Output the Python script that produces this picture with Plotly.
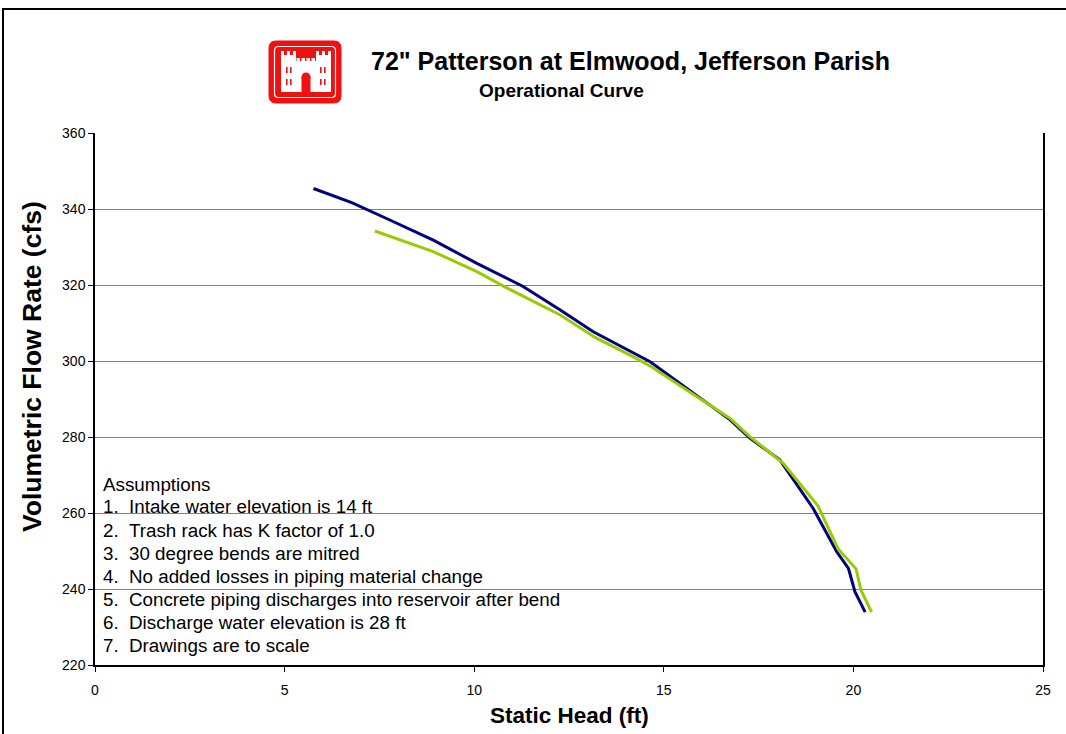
import plotly.graph_objects as go

# ---- data ----
blue_head = [5.76, 6.77, 7.69, 8.92, 10.07, 10.77, 11.29, 12.27, 13.14, 14.64,
             15.78, 16.75, 17.27, 18.06, 18.94, 19.56, 19.87, 20.04, 20.31]
blue_flow = [345.4, 341.7, 337.5, 331.8, 325.7, 322.2, 319.6, 313.4, 307.7, 299.8,
             291.5, 284.5, 279.7, 274.0, 261.2, 249.8, 245.4, 239.3, 233.9]

green_head = [7.38, 8.92, 10.07, 10.77, 12.27, 13.19, 14.20, 14.64, 16.75, 17.27,
              18.15, 19.07, 19.60, 20.07, 20.20, 20.48]
green_flow = [334.2, 328.8, 323.5, 319.7, 312.1, 306.2, 301.1, 298.7, 284.9, 280.1,
              273.1, 261.8, 250.5, 245.3, 239.7, 233.9]

x_ticks = [0, 5, 10, 15, 20, 25]
y_ticks = [220, 240, 260, 280, 300, 320, 340, 360]

title_text = '72" Patterson at Elmwood, Jefferson Parish'
subtitle_text = "Operational Curve"
x_title = "Static Head (ft)"
y_title = "Volumetric Flow Rate (cfs)"
notes_header = "Assumptions"
note_numbers = ["1.", "2.", "3.", "4.", "5.", "6.", "7."]
note_texts = [
    "Intake water elevation is 14 ft",
    "Trash rack has K factor of 1.0",
    "30 degree bends are mitred",
    "No added losses in piping material change",
    "Concrete piping discharges into reservoir after bend",
    "Discharge water elevation is 28 ft",
    "Drawings are to scale",
]

# ---- layout geometry (pixels) ----
W, H = 1066, 734
PL, PR, PT, PB = 95, 1043, 133, 665
FONT = "Arial, Liberation Sans, sans-serif"


def px(x):
    return (x - PL) / (PR - PL)


def py(y):
    return (PB - y) / (PB - PT)


fig = go.Figure()
fig.add_trace(go.Scatter(x=blue_head, y=blue_flow, mode="lines",
                         line=dict(color="#000080", width=3), showlegend=False))
fig.add_trace(go.Scatter(x=green_head, y=green_flow, mode="lines",
                         line=dict(color="#99CC00", width=3), showlegend=False))

annotations = []
annotations.append(dict(text="<b>" + title_text + "</b>", x=px(630), y=py(61),
                        xref="paper", yref="paper", showarrow=False,
                        xanchor="center", yanchor="middle",
                        font=dict(family=FONT, size=25, color="black")))
annotations.append(dict(text="<b>" + subtitle_text + "</b>", x=px(561), y=py(90),
                        xref="paper", yref="paper", showarrow=False,
                        xanchor="center", yanchor="middle",
                        font=dict(family=FONT, size=19, color="black")))
annotations.append(dict(text="<b>" + x_title + "</b>", x=px(569), y=py(715),
                        xref="paper", yref="paper", showarrow=False,
                        xanchor="center", yanchor="middle",
                        font=dict(family=FONT, size=22.5, color="black")))
annotations.append(dict(text="<b>" + y_title + "</b>", x=px(32), y=py(367),
                        xref="paper", yref="paper", showarrow=False, textangle=-90,
                        xanchor="center", yanchor="middle",
                        font=dict(family=FONT, size=26.5, color="black")))

NOTE_FONT = dict(family=FONT, size=18.8, color="black")
annotations.append(dict(text=notes_header, x=px(101), y=py(484),
                        xref="paper", yref="paper", showarrow=False,
                        xanchor="left", yanchor="middle", font=NOTE_FONT))
for i, (n, t) in enumerate(zip(note_numbers, note_texts)):
    yy = 484 + 23 * (i + 1)
    annotations.append(dict(text=n, x=px(101), y=py(yy), xref="paper", yref="paper",
                            showarrow=False, xanchor="left", yanchor="middle",
                            font=NOTE_FONT))
    annotations.append(dict(text=t, x=px(127), y=py(yy), xref="paper", yref="paper",
                            showarrow=False, xanchor="left", yanchor="middle",
                            font=NOTE_FONT))

shapes = []
# outer chart border
shapes.append(dict(type="rect", xref="paper", yref="paper",
                   x0=px(3), x1=px(1075), y0=py(745), y1=py(9),
                   line=dict(color="black", width=2), fillcolor="rgba(0,0,0,0)",
                   layer="above"))


def rounded_rect(x0, y0, x1, y1, r):
    return (f"M {px(x0 + r)},{py(y0)} L {px(x1 - r)},{py(y0)} "
            f"Q {px(x1)},{py(y0)} {px(x1)},{py(y0 + r)} "
            f"L {px(x1)},{py(y1 - r)} Q {px(x1)},{py(y1)} {px(x1 - r)},{py(y1)} "
            f"L {px(x0 + r)},{py(y1)} Q {px(x0)},{py(y1)} {px(x0)},{py(y1 - r)} "
            f"L {px(x0)},{py(y0 + r)} Q {px(x0)},{py(y0)} {px(x0 + r)},{py(y0)} Z")


RED = "#EE1111"
# logo: red rounded square
shapes.append(dict(type="path", xref="paper", yref="paper",
                   path=rounded_rect(269, 41, 341, 103, 7),
                   fillcolor=RED, line=dict(color=RED, width=1), layer="above"))
shapes.append(dict(type="path", xref="paper", yref="paper",
                   path=rounded_rect(274.5, 46.5, 335.5, 97.5, 4),
                   fillcolor="rgba(0,0,0,0)", line=dict(color="white", width=1.2),
                   layer="above"))


def wrect(x0, y0, x1, y1, color="white"):
    shapes.append(dict(type="rect", xref="paper", yref="paper",
                       x0=px(x0), x1=px(x1), y0=py(y1), y1=py(y0),
                       fillcolor=color, line=dict(width=0), layer="above"))


# castle body and towers
wrect(281, 64, 331, 92)
wrect(281, 55, 296, 64)
wrect(316, 55, 331, 64)
wrect(296, 61, 316, 64)
# crenellations
for cx in (281, 287, 293):
    wrect(cx, 51, cx + 3, 55)
for cx in (316, 322, 328):
    wrect(cx, 51, cx + 3, 55)
for cx in (296.5, 301.5, 306.5, 311.5):
    wrect(cx, 58, cx + 3.5, 61)
# windows and door
for wx in (286, 290, 320, 324):
    wrect(wx, 67, wx + 1.6, 73, RED)
    wrect(wx, 79, wx + 1.6, 85, RED)
wrect(301.5, 77, 310.5, 92, RED)
shapes.append(dict(type="circle", xref="paper", yref="paper",
                   x0=px(301.5), x1=px(310.5), y0=py(81.5), y1=py(72.5),
                   fillcolor=RED, line=dict(width=0), layer="above"))

fig.update_layout(
    width=W, height=H,
    margin=dict(l=PL, r=W - PR, t=PT, b=H - PB, autoexpand=False),
    paper_bgcolor="white", plot_bgcolor="white",
    font=dict(family=FONT, size=14, color="black"),
    annotations=annotations, shapes=shapes,
    showlegend=False,
    xaxis=dict(range=[0, 25], tickvals=x_ticks, showgrid=False, zeroline=False,
               showline=True, linecolor="black", linewidth=1.5,
               ticks="outside", ticklen=5, tickcolor="black",
               ticklabelstandoff=6,
               tickfont=dict(family=FONT, size=14, color="black")),
    yaxis=dict(range=[220, 360], tickvals=y_ticks, showgrid=True,
               gridcolor="#808080", gridwidth=1, zeroline=False,
               showline=True, linecolor="black", linewidth=1.5, mirror=True,
               ticks="outside", ticklen=5, tickcolor="black",
               tickfont=dict(family=FONT, size=14, color="black")),
)

fig.write_html("out.html",
               config={"displayModeBar": False},
               post_script="document.body.style.margin='0';"
                           "document.body.style.overflow='hidden';")
